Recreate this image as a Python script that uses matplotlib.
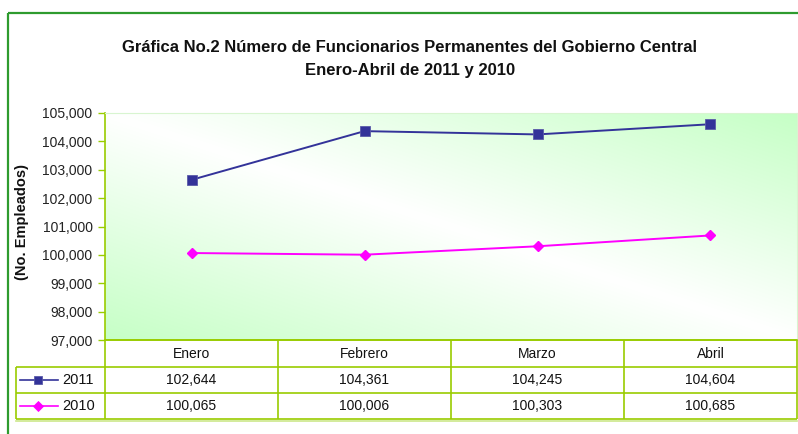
import numpy as np
import matplotlib
matplotlib.use("Agg")
import matplotlib.pyplot as plt
from matplotlib.colors import to_rgb

plt.rcParams['font.family'] = ['Liberation Sans', 'DejaVu Sans']

# ---- data ----
months = ["Enero", "Febrero", "Marzo", "Abril"]
series_names = ["2011", "2010"]
values_2011 = [102644, 104361, 104245, 104604]
values_2010 = [100065, 100006, 100303, 100685]
y_ticks = [97000, 98000, 99000, 100000, 101000, 102000, 103000, 104000, 105000]

title_line1 = "Gráfica No.2 Número de Funcionarios Permanentes del Gobierno Central"
title_line2 = "Enero-Abril de 2011 y 2010"
y_label = "(No. Empleados)"

W, H = 798, 434
fig = plt.figure(figsize=(W / 100, H / 100), dpi=100)
fig.patch.set_facecolor("white")

# plot area in pixels
L, R, T, B = 105, 797, 113, 340
ax = fig.add_axes([L / W, (H - B) / H, (R - L) / W, (B - T) / H])

axis_green = "#99cc00"
c2011 = "#333399"
c2010 = "#ff00ff"

# gradient background (green at top-right and bottom-left, white along diagonal)
nx, ny = 200, 100
gx = np.linspace(0, 1, nx)
gy = np.linspace(0, 1, ny)
GX, GY = np.meshgrid(gx, gy)  # GY=0 bottom
t = (GX + GY) / 2.0
inten = np.abs(2 * t - 1) ** 1.0
white = np.array([1.0, 1.0, 1.0])
green = np.array(to_rgb("#c6ffc6"))
img = white[None, None, :] * (1 - inten[..., None]) + green[None, None, :] * inten[..., None]
ax.imshow(img, extent=[-0.5, 3.5, 97000, 105000], origin="lower", aspect="auto", zorder=0, interpolation="bilinear")

x = np.arange(len(months))
ax.plot(x, values_2011, color=c2011, lw=1.4, marker="s", ms=6.5, mec="#5a5aa8", mew=0.6, zorder=3)
ax.plot(x, values_2010, color=c2010, lw=1.4, marker="D", ms=5.5, mec=c2010, zorder=3)

ax.set_xlim(-0.5, 3.5)
ax.set_ylim(97000, 105000)
ax.set_yticks(y_ticks)
ax.set_yticklabels([f"{v:,}" for v in y_ticks], fontsize=10, color="#222222")
ax.tick_params(axis="y", length=5, color=axis_green, width=1, pad=4)
ax.set_xticks([])
for s in ["top", "right"]:
    ax.spines[s].set_color("#d8f5d0")
    ax.spines[s].set_linewidth(0.8)
ax.spines["left"].set_color(axis_green)
ax.spines["bottom"].set_color(axis_green)
ax.spines["left"].set_linewidth(1.2)
ax.spines["bottom"].set_linewidth(1.2)

# overlay for frame, titles, table
ov = fig.add_axes([0, 0, 1, 1], facecolor="none")
ov.set_xlim(0, W)
ov.set_ylim(H, 0)
ov.axis("off")

frame_green = "#2e9b2e"
ov.plot([8, W], [13, 13], color=frame_green, lw=1.6, solid_capstyle="butt")
ov.plot([8, 8], [13, H], color=frame_green, lw=1.6, solid_capstyle="butt")

ov.text(410, 48, title_line1, ha="center", va="center", fontsize=12, fontweight="bold", color="#111111")
ov.text(410, 71, title_line2, ha="center", va="center", fontsize=12, fontweight="bold", color="#111111")
ov.text(22, 222, y_label, ha="center", va="center", rotation=90, fontsize=10.5, fontweight="bold", color="#111111")

# table
col_edges = [L + i * (R - L) / len(months) for i in range(len(months) + 1)]
row_edges = [340, 367, 393, 419]
tl = dict(color=axis_green, lw=1.2, solid_capstyle="butt")
for i, xe in enumerate(col_edges):
    ov.plot([xe, xe], [row_edges[0], row_edges[-1]], **tl)
ov.plot([16, 16], [row_edges[1], row_edges[-1]], **tl)
ov.plot([L, R], [row_edges[0], row_edges[0]], **tl)
for ye in row_edges[1:]:
    ov.plot([16, R], [ye, ye], **tl)
ov.plot([16, R], [row_edges[-1] + 1.5, row_edges[-1] + 1.5], color="#cce88a", lw=1.2)

for i, m in enumerate(months):
    cx = (col_edges[i] + col_edges[i + 1]) / 2
    ov.text(cx, (row_edges[0] + row_edges[1]) / 2, m, ha="center", va="center", fontsize=10, color="#111111")

rows = [(series_names[0], values_2011, c2011, "s", 6, "#5a5aa8"),
        (series_names[1], values_2010, c2010, "D", 5, c2010)]
for r, (name, vals, col, mk, ms, mec) in enumerate(rows):
    cy = (row_edges[r + 1] + row_edges[r + 2]) / 2
    ov.plot([20, 58], [cy, cy], color=col, lw=1.2)
    ov.plot([38], [cy], marker=mk, ms=ms, color=col, mec=mec, mew=0.6)
    ov.text(62, cy, name, ha="left", va="center", fontsize=10.5, color="#111111")
    for i, v in enumerate(vals):
        cx = (col_edges[i] + col_edges[i + 1]) / 2
        ov.text(cx, cy, f"{v:,}", ha="center", va="center", fontsize=10, color="#111111")

fig.savefig("out.png", dpi=100)
